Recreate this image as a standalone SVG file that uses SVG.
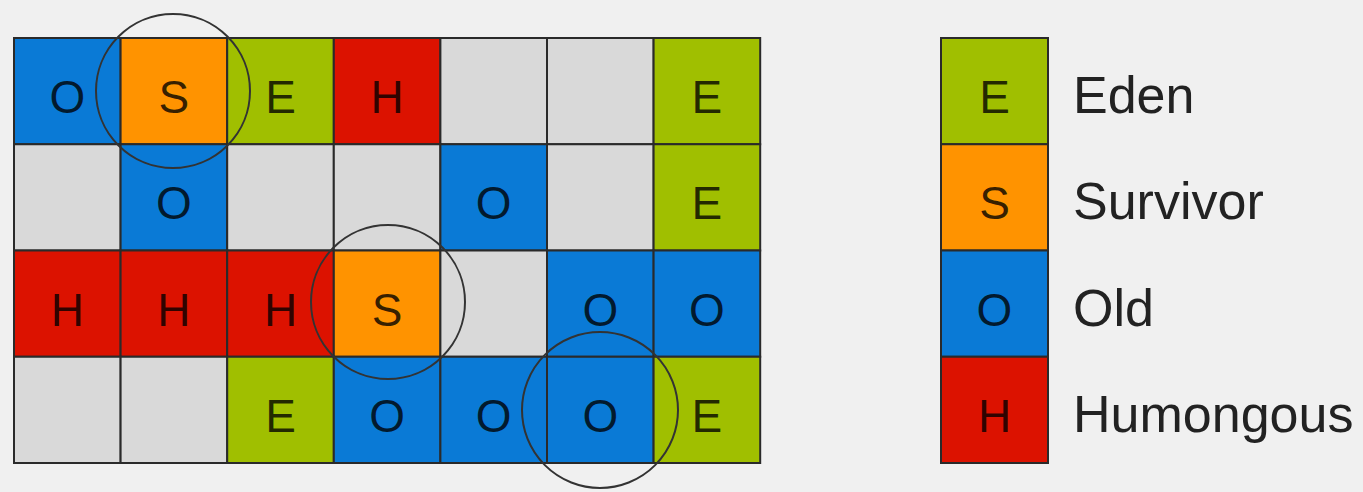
<svg xmlns="http://www.w3.org/2000/svg" width="1363" height="492" viewBox="0 0 1363 492">
<style>
.c{stroke:#2a2a2a;stroke-width:2}
.E{fill:#a0bf00}.S{fill:#ff9300}.O{fill:#0a7ad6}.H{fill:#dc1200}.G{fill:#d9d9d9}
.t{font-family:"Liberation Sans",Arial,sans-serif;font-size:46px;text-anchor:middle;fill:#000;fill-opacity:0.78}
.l{font-family:"Liberation Sans",Arial,sans-serif;font-size:52px;fill:#222}
.ring{fill:none;stroke:#333;stroke-width:2}
</style>
<rect width="1363" height="492" fill="#f0f0f0"/>
<g id="grid">
<g id="r1c1"><rect class="c O" x="14" y="38" width="106.6" height="106.25"/><text class="t" x="67.3" y="113">O</text></g>
<g id="r1c2"><rect class="c S" x="120.6" y="38" width="106.6" height="106.25"/><text class="t" x="173.9" y="113">S</text></g>
<g id="r1c3"><rect class="c E" x="227.2" y="38" width="106.6" height="106.25"/><text class="t" x="280.5" y="113">E</text></g>
<g id="r1c4"><rect class="c H" x="333.8" y="38" width="106.6" height="106.25"/><text class="t" x="387.1" y="113">H</text></g>
<g id="r1c5"><rect class="c G" x="440.4" y="38" width="106.6" height="106.25"/></g>
<g id="r1c6"><rect class="c G" x="547" y="38" width="106.6" height="106.25"/></g>
<g id="r1c7"><rect class="c E" x="653.6" y="38" width="106.6" height="106.25"/><text class="t" x="706.9" y="113">E</text></g>

<g id="r2c1"><rect class="c G" x="14" y="144.25" width="106.6" height="106.25"/></g>
<g id="r2c2"><rect class="c O" x="120.6" y="144.25" width="106.6" height="106.25"/><text class="t" x="173.9" y="219.25">O</text></g>
<g id="r2c3"><rect class="c G" x="227.2" y="144.25" width="106.6" height="106.25"/></g>
<g id="r2c4"><rect class="c G" x="333.8" y="144.25" width="106.6" height="106.25"/></g>
<g id="r2c5"><rect class="c O" x="440.4" y="144.25" width="106.6" height="106.25"/><text class="t" x="493.7" y="219.25">O</text></g>
<g id="r2c6"><rect class="c G" x="547" y="144.25" width="106.6" height="106.25"/></g>
<g id="r2c7"><rect class="c E" x="653.6" y="144.25" width="106.6" height="106.25"/><text class="t" x="706.9" y="219.25">E</text></g>

<g id="r3c1"><rect class="c H" x="14" y="250.5" width="106.6" height="106.25"/><text class="t" x="67.3" y="325.5">H</text></g>
<g id="r3c2"><rect class="c H" x="120.6" y="250.5" width="106.6" height="106.25"/><text class="t" x="173.9" y="325.5">H</text></g>
<g id="r3c3"><rect class="c H" x="227.2" y="250.5" width="106.6" height="106.25"/><text class="t" x="280.5" y="325.5">H</text></g>
<g id="r3c4"><rect class="c S" x="333.8" y="250.5" width="106.6" height="106.25"/><text class="t" x="387.1" y="325.5">S</text></g>
<g id="r3c5"><rect class="c G" x="440.4" y="250.5" width="106.6" height="106.25"/></g>
<g id="r3c6"><rect class="c O" x="547" y="250.5" width="106.6" height="106.25"/><text class="t" x="600.3" y="325.5">O</text></g>
<g id="r3c7"><rect class="c O" x="653.6" y="250.5" width="106.6" height="106.25"/><text class="t" x="706.9" y="325.5">O</text></g>

<g id="r4c1"><rect class="c G" x="14" y="356.75" width="106.6" height="106.25"/></g>
<g id="r4c2"><rect class="c G" x="120.6" y="356.75" width="106.6" height="106.25"/></g>
<g id="r4c3"><rect class="c E" x="227.2" y="356.75" width="106.6" height="106.25"/><text class="t" x="280.5" y="431.75">E</text></g>
<g id="r4c4"><rect class="c O" x="333.8" y="356.75" width="106.6" height="106.25"/><text class="t" x="387.1" y="431.75">O</text></g>
<g id="r4c5"><rect class="c O" x="440.4" y="356.75" width="106.6" height="106.25"/><text class="t" x="493.7" y="431.75">O</text></g>
<g id="r4c6"><rect class="c O" x="547" y="356.75" width="106.6" height="106.25"/><text class="t" x="600.3" y="431.75">O</text></g>
<g id="r4c7"><rect class="c E" x="653.6" y="356.75" width="106.6" height="106.25"/><text class="t" x="706.9" y="431.75">E</text></g>
</g>
<g id="highlights">
<circle class="ring" cx="173" cy="91" r="77"/>
<circle class="ring" cx="388" cy="302" r="77"/>
<circle class="ring" cx="600" cy="410" r="78"/>
</g>
<g id="legend">
<g id="leg-eden"><rect class="c E" x="941" y="38" width="107" height="106.25"/><text class="t" x="994.5" y="113">E</text><text class="l" x="1073" y="113">Eden</text></g>
<g id="leg-survivor"><rect class="c S" x="941" y="144.25" width="107" height="106.25"/><text class="t" x="994.5" y="219.25">S</text><text class="l" x="1073" y="219.25">Survivor</text></g>
<g id="leg-old"><rect class="c O" x="941" y="250.5" width="107" height="106.25"/><text class="t" x="994.5" y="325.5">O</text><text class="l" x="1073" y="325.5">Old</text></g>
<g id="leg-humongous"><rect class="c H" x="941" y="356.75" width="107" height="106.25"/><text class="t" x="994.5" y="431.75">H</text><text class="l" x="1073" y="431.75">Humongous</text></g>
</g>
</svg>
